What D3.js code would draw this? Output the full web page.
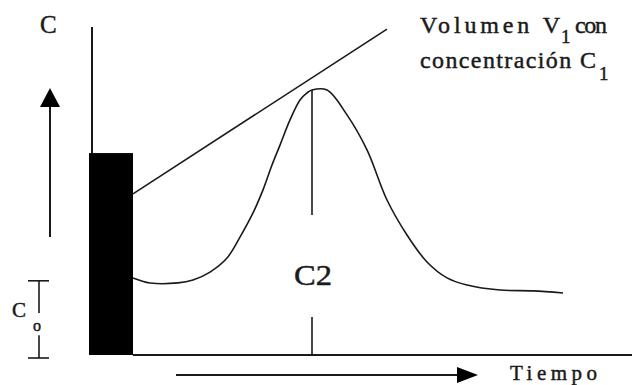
<!DOCTYPE html>
<html>
<head>
<meta charset="utf-8">
<script src="https://cdn.jsdelivr.net/npm/d3@7"></script>
<style>
  html, body { margin: 0; padding: 0; background: #fff; }
  svg { display: block; }
</style>
</head>
<body>
<svg id="chart" width="632" height="385"></svg>
<script>
// ── data (time units, concentration units) ──
const curveTime = [0, 1.7, 4.5, 6, 7.7, 9.4, 10.7, 12, 13, 13.9, 14.7, 15.7, 16.7, 17.4, 17.9, 19.4,
                   21.4, 23.4, 25.4, 27.4, 29.4, 31.4, 33.4, 36.7, 40, 43];
const curveConc = [29.1, 27.2, 27.2, 28.3, 31.3, 36.6, 44.5, 53.6, 62.3, 71.7, 79.2, 88.7, 96.2, 98.9, 100, 100,
                   90.6, 77.4, 58.5, 45.3, 35.1, 29.1, 26.4, 24.5, 24.2, 23.4];
const volTime = [0, 25.4];          // line toward the V1 label
const volConc = [60.8, 123];
const pulseStart = -4.4, pulseEnd = 0, pulseConc = 76.2;   // injected volume bar
const peakTime = 17.9, peakConc = 100;
const c0 = 28;                                             // baseline concentration
const labels = { c: 'C', c2: 'C2', time: 'Tiempo', vol: 'Volumen V', con: 'con', conc: 'concentración C', sub: '1', c0: 'C', c0sub: 'o' };

const svg = d3.select('#chart');
const x = d3.scaleLinear().domain([0, 43]).range([133, 563]);
const y = d3.scaleLinear().domain([0, 100]).range([355, 90]);
const ink = '#1a1a1a';
const FONT = 'Liberation Serif';

const line = d3.line().x(d => x(d[0])).y(d => y(d[1])).curve(d3.curveCatmullRom.alpha(0.5));

function label(px, py, size, txt, len) {
  const t = svg.append('text').attr('x', px).attr('y', py)
    .attr('font-family', FONT).attr('font-size', size).attr('fill', ink)
    .attr('stroke', ink).attr('stroke-width', 0.45).text(txt);
  if (len) t.attr('textLength', len).attr('lengthAdjust', 'spacing');
  return t;
}

// ── axes ──
svg.append('line')
  .attr('x1', x(pulseEnd)).attr('x2', 632)
  .attr('y1', y(0)).attr('y2', y(0))
  .attr('stroke', ink).attr('stroke-width', 2);
svg.append('line')
  .attr('x1', x(-4.1)).attr('x2', x(-4.1))
  .attr('y1', y(123.8)).attr('y2', y(pulseConc))
  .attr('stroke', ink).attr('stroke-width', 2);

// ── injected volume bar ──
svg.append('rect')
  .attr('x', x(pulseStart)).attr('y', y(pulseConc))
  .attr('width', x(pulseEnd) - x(pulseStart))
  .attr('height', y(0) - y(pulseConc))
  .attr('fill', '#000');

// ── line to the V1 label ──
svg.append('path')
  .datum(d3.zip(volTime, volConc))
  .attr('d', d3.line().x(d => x(d[0])).y(d => y(d[1])))
  .attr('fill', 'none').attr('stroke', ink).attr('stroke-width', 1.6);

// ── response curve ──
svg.append('path')
  .datum(d3.zip(curveTime, curveConc))
  .attr('d', line)
  .attr('fill', 'none').attr('stroke', ink).attr('stroke-width', 1.6);

// ── peak marker, broken around C2 ──
[[peakConc, 52.8], [14.3, 0]].forEach(([a, b]) => {
  svg.append('line')
    .attr('x1', x(peakTime)).attr('x2', x(peakTime))
    .attr('y1', y(a)).attr('y2', y(b))
    .attr('stroke', ink).attr('stroke-width', 1.6);
});
label(294, 285, 30, labels.c2).attr('textLength', 38).attr('lengthAdjust', 'spacingAndGlyphs');

// ── C0 bracket ──
const bx = 39;
[[c0, 17], [7.5, 0]].forEach(([a, b]) => {
  svg.append('line').attr('x1', bx).attr('x2', bx).attr('y1', y(a)).attr('y2', y(b) + 3)
    .attr('stroke', ink).attr('stroke-width', 1.6);
});
[y(c0), y(0) + 3].forEach(yy => {
  svg.append('line').attr('x1', 28).attr('x2', 49).attr('y1', yy).attr('y2', yy)
    .attr('stroke', ink).attr('stroke-width', 1.6);
});
label(12, 317, 21, labels.c0);
label(33, 331, 16, labels.c0sub);

// ── arrows ──
const axX = 50;
svg.append('line').attr('x1', axX).attr('x2', axX).attr('y1', 237).attr('y2', 105)
  .attr('stroke', ink).attr('stroke-width', 2);
svg.append('path')
  .attr('d', d3.line()([[axX, 88], [axX - 10, 107], [axX + 10, 107]]) + 'Z')
  .attr('fill', '#000');
const arY = 375;
svg.append('line').attr('x1', 176).attr('x2', 460).attr('y1', arY).attr('y2', arY)
  .attr('stroke', ink).attr('stroke-width', 2);
svg.append('path')
  .attr('d', d3.line()([[478, arY], [457, arY - 8], [457, arY + 8]]) + 'Z')
  .attr('fill', '#000');

// ── labels ──
label(40, 33, 25, labels.c);
label(510, 380, 21, labels.time, 87);

label(420, 33, 24, labels.vol, 140);
label(561, 43, 19, labels.sub);
label(575, 33, 24, labels.con, 32);

label(420, 68, 24, labels.conc, 176);
label(599, 80, 19, labels.sub);
</script>
</body>
</html>
